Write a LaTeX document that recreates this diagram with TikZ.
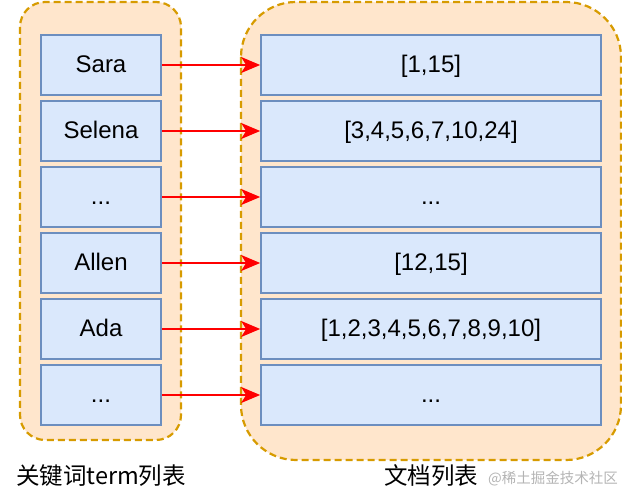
\documentclass[tikz,border=0pt]{standalone}
\usepackage{fontspec}
\setmainfont{Liberation Sans}
\newfontfamily\cjk{Noto Sans CJK SC}
\usepackage{tikz}
\usetikzlibrary{arrows.meta}
\definecolor{groupfill}{HTML}{FFE6CC}
\definecolor{groupline}{HTML}{D79B00}
\definecolor{boxfill}{HTML}{DAE8FC}
\definecolor{boxline}{HTML}{6C8EBF}
\definecolor{markgray}{HTML}{B4B4B4}
\tikzstyle{group} = [draw=groupline, fill=groupfill, line width=2.2pt, dash pattern=on 7pt off 4pt]
\tikzstyle{term} = [draw=boxline, fill=boxfill, line width=1.7pt, minimum width=120pt, minimum height=60pt, inner sep=0pt, text height=17pt, text depth=1pt, font=\fontsize{24}{28}\selectfont]
\tikzstyle{doc} = [term, minimum width=340pt]
\tikzstyle{link} = [-{Stealth[length=19pt,width=16pt,inset=5pt]}, red, line width=2pt]
\tikzstyle{caption} = [font=\cjk\fontsize{23.5}{28}\selectfont]

\begin{document}
\begin{tikzpicture} [x=1pt, y=-1pt]

						\useasboundingbox (0,0) rectangle (622, 502);

						\draw[group, rounded corners=25pt] (20,2) rectangle (181, 440);
						\draw[group, rounded corners=55pt] (241,2) rectangle (621, 460);

						\node[term] (T1) at (101, 65) {Sara};
						\node[term] (T2) at (101, 131) {Selena};
						\node[term] (T3) at (101, 197) {...};
						\node[term] (T4) at (101, 263) {Allen};
						\node[term] (T5) at (101, 329) {Ada};
						\node[term] (T6) at (101, 395) {...};

						\node[doc] (D1) at (431, 65) {[1,15]};
						\node[doc] (D2) at (431, 131) {[3,4,5,6,7,10,24]};
						\node[doc] (D3) at (431, 197) {...};
						\node[doc] (D4) at (431, 263) {[12,15]};
						\node[doc] (D5) at (431, 329) {[1,2,3,4,5,6,7,8,9,10]};
						\node[doc] (D6) at (431, 395) {...};

						\draw[link] (T1) -- (D1);
						\draw[link] (T2) -- (D2);
						\draw[link] (T3) -- (D3);
						\draw[link] (T4) -- (D4);
						\draw[link] (T5) -- (D5);
						\draw[link] (T6) -- (D6);

						\node[caption] (L1) at (101, 476) {关键词term列表};
						\node[caption] (L2) at (431, 476) {文档列表};
						\node[font=\cjk\fontsize{14.5}{16}\selectfont, text=markgray] (W) at (553, 479) {@稀土掘金技术社区};

					\end{tikzpicture}
\end{document}
